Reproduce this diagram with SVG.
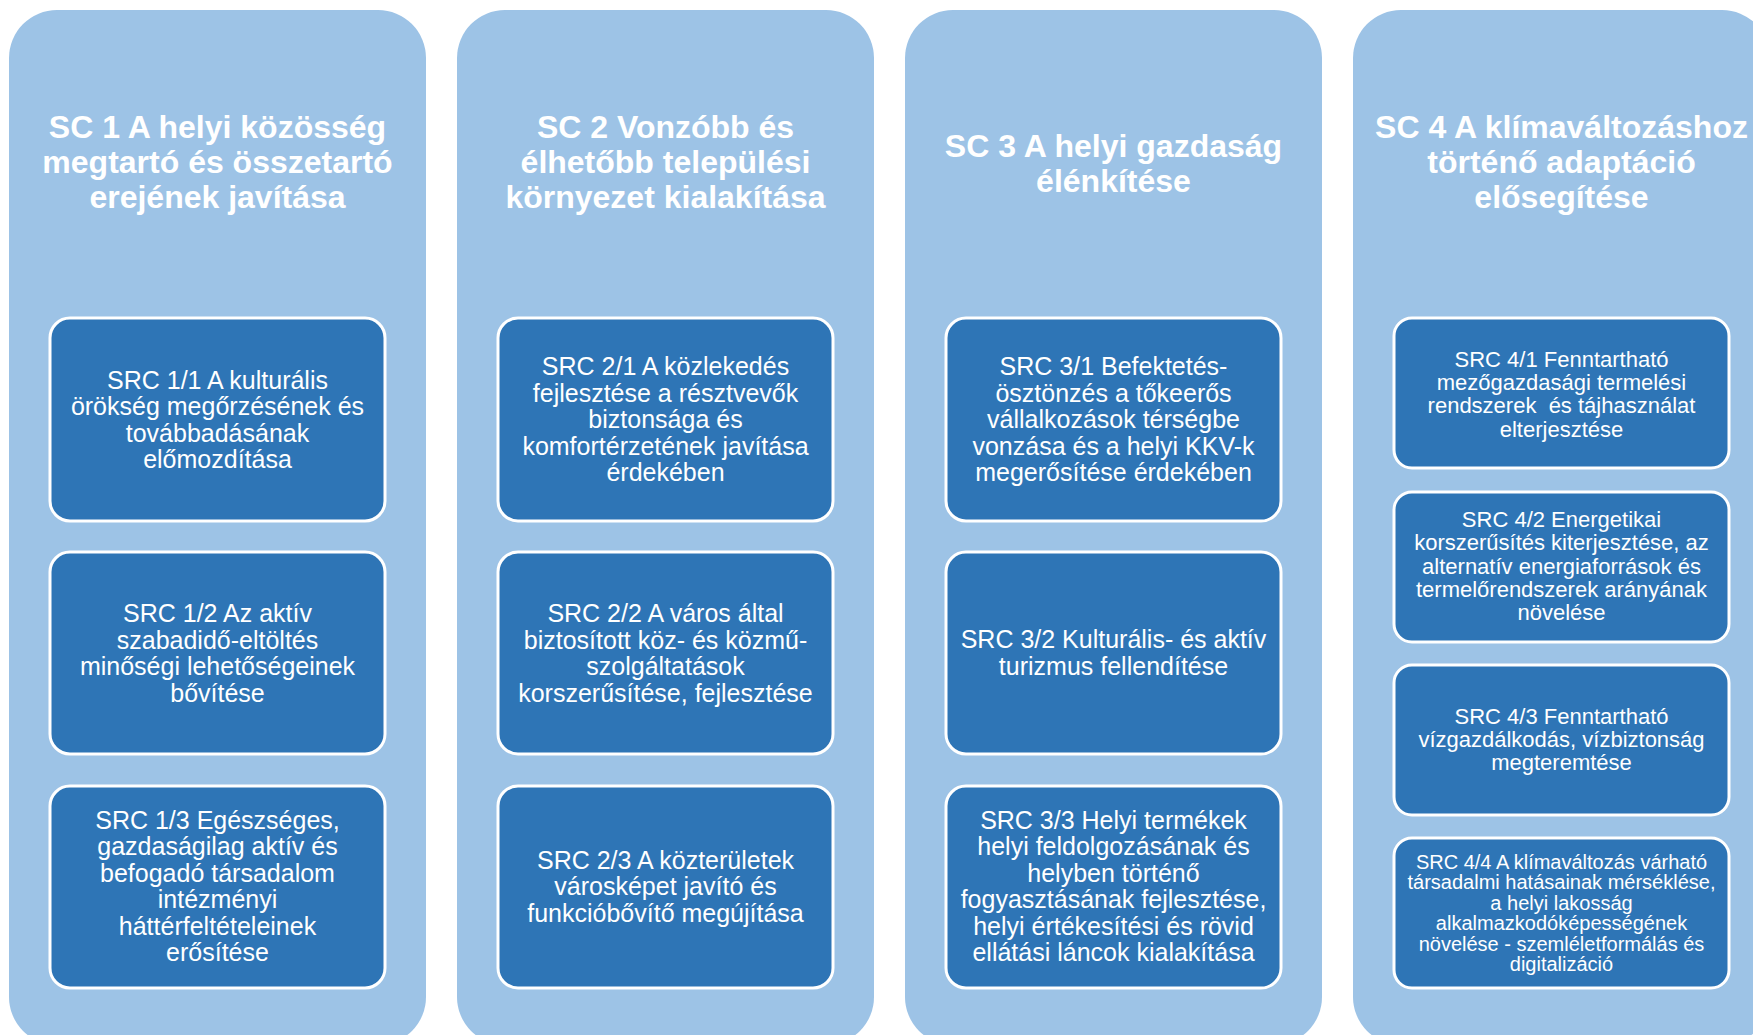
<svg xmlns="http://www.w3.org/2000/svg" width="1753" height="1035" viewBox="0 0 1753 1035">
<style>
.col{fill:#9DC3E6;}
.box{fill:#2E75B6;stroke:#FFFFFF;stroke-width:3;}
.title{font-family:"Liberation Sans",Arial,sans-serif;font-weight:bold;font-size:32px;fill:#FFFFFF;text-anchor:middle;}
.t{font-family:"Liberation Sans",Arial,sans-serif;font-size:25px;fill:#FFFFFF;text-anchor:middle;}
.t4{font-family:"Liberation Sans",Arial,sans-serif;font-size:22px;fill:#FFFFFF;text-anchor:middle;white-space:pre;}
.t44{font-family:"Liberation Sans",Arial,sans-serif;font-size:20px;fill:#FFFFFF;text-anchor:middle;}
</style>
<rect width="1753" height="1035" fill="#FFFFFF"/>

<g id="sc1">
<rect class="col" x="9" y="10" width="417" height="1035" rx="48"/>
<text class="title"><tspan x="217.5" y="138">SC 1 A helyi közösség</tspan><tspan x="217.5" y="173">megtartó és összetartó</tspan><tspan x="217.5" y="208">erejének javítása</tspan></text>
</g>
<g id="sc2">
<rect class="col" x="457" y="10" width="417" height="1035" rx="48"/>
<text class="title"><tspan x="665.5" y="138">SC 2 Vonzóbb és</tspan><tspan x="665.5" y="173">élhetőbb települési</tspan><tspan x="665.5" y="208">környezet kialakítása</tspan></text>
</g>
<g id="sc3">
<rect class="col" x="905" y="10" width="417" height="1035" rx="48"/>
<text class="title"><tspan x="1113.5" y="157">SC 3 A helyi gazdaság</tspan><tspan x="1113.5" y="192">élénkítése</tspan></text>
</g>
<g id="sc4">
<rect class="col" x="1353" y="10" width="417" height="1035" rx="48"/>
<text class="title"><tspan x="1561.5" y="138">SC 4 A klímaváltozáshoz</tspan><tspan x="1561.5" y="173">történő adaptáció</tspan><tspan x="1561.5" y="208">elősegítése</tspan></text>
</g>

<g id="src11">
<rect class="box" x="50" y="318" width="335" height="203" rx="20"/>
<text class="t"><tspan x="217.5" y="388.5">SRC 1/1 A kulturális</tspan><tspan x="217.5" y="415">örökség megőrzésének és</tspan><tspan x="217.5" y="441.5">továbbadásának</tspan><tspan x="217.5" y="468">előmozdítása</tspan></text>
</g>
<g id="src12">
<rect class="box" x="50" y="552" width="335" height="202" rx="20"/>
<text class="t"><tspan x="217.5" y="622">SRC 1/2 Az aktív</tspan><tspan x="217.5" y="648.5">szabadidő-eltöltés</tspan><tspan x="217.5" y="675">minőségi lehetőségeinek</tspan><tspan x="217.5" y="701.5">bővítése</tspan></text>
</g>
<g id="src13">
<rect class="box" x="50" y="786" width="335" height="202" rx="20"/>
<text class="t"><tspan x="217.5" y="828.5">SRC 1/3 Egészséges,</tspan><tspan x="217.5" y="855">gazdaságilag aktív és</tspan><tspan x="217.5" y="881.5">befogadó társadalom</tspan><tspan x="217.5" y="908">intézményi</tspan><tspan x="217.5" y="934.5">háttérfeltételeinek</tspan><tspan x="217.5" y="961">erősítése</tspan></text>
</g>

<g id="src21">
<rect class="box" x="498" y="318" width="335" height="203" rx="20"/>
<text class="t"><tspan x="665.5" y="375">SRC 2/1 A közlekedés</tspan><tspan x="665.5" y="401.5">fejlesztése a résztvevők</tspan><tspan x="665.5" y="428">biztonsága és</tspan><tspan x="665.5" y="454.5">komfortérzetének javítása</tspan><tspan x="665.5" y="481">érdekében</tspan></text>
</g>
<g id="src22">
<rect class="box" x="498" y="552" width="335" height="202" rx="20"/>
<text class="t"><tspan x="665.5" y="622">SRC 2/2 A város által</tspan><tspan x="665.5" y="648.5">biztosított köz- és közmű-</tspan><tspan x="665.5" y="675">szolgáltatások</tspan><tspan x="665.5" y="701.5">korszerűsítése, fejlesztése</tspan></text>
</g>
<g id="src23">
<rect class="box" x="498" y="786" width="335" height="202" rx="20"/>
<text class="t"><tspan x="665.5" y="868.5">SRC 2/3 A közterületek</tspan><tspan x="665.5" y="895">városképet javító és</tspan><tspan x="665.5" y="921.5">funkcióbővítő megújítása</tspan></text>
</g>

<g id="src31">
<rect class="box" x="946" y="318" width="335" height="203" rx="20"/>
<text class="t"><tspan x="1113.5" y="375">SRC 3/1 Befektetés-</tspan><tspan x="1113.5" y="401.5">ösztönzés a tőkeerős</tspan><tspan x="1113.5" y="428">vállalkozások térségbe</tspan><tspan x="1113.5" y="454.5">vonzása és a helyi KKV-k</tspan><tspan x="1113.5" y="481">megerősítése érdekében</tspan></text>
</g>
<g id="src32">
<rect class="box" x="946" y="552" width="335" height="202" rx="20"/>
<text class="t"><tspan x="1113.5" y="647.5">SRC 3/2 Kulturális- és aktív</tspan><tspan x="1113.5" y="674.5">turizmus fellendítése</tspan></text>
</g>
<g id="src33">
<rect class="box" x="946" y="786" width="335" height="202" rx="20"/>
<text class="t"><tspan x="1113.5" y="828.5">SRC 3/3 Helyi termékek</tspan><tspan x="1113.5" y="855">helyi feldolgozásának és</tspan><tspan x="1113.5" y="881.5">helyben történő</tspan><tspan x="1113.5" y="908">fogyasztásának fejlesztése,</tspan><tspan x="1113.5" y="934.5">helyi értékesítési és rövid</tspan><tspan x="1113.5" y="961">ellátási láncok kialakítása</tspan></text>
</g>

<g id="src41">
<rect class="box" x="1394" y="318" width="335" height="150" rx="18"/>
<text class="t4"><tspan x="1561.5" y="366.5">SRC 4/1 Fenntartható</tspan><tspan x="1561.5" y="390">mezőgazdasági termelési</tspan><tspan x="1561.5" y="413">rendszerek  és tájhasználat</tspan><tspan x="1561.5" y="436.5">elterjesztése</tspan></text>
</g>
<g id="src42">
<rect class="box" x="1394" y="492" width="335" height="150" rx="18"/>
<text class="t4"><tspan x="1561.5" y="527">SRC 4/2 Energetikai</tspan><tspan x="1561.5" y="550.3">korszerűsítés kiterjesztése, az</tspan><tspan x="1561.5" y="573.6">alternatív energiaforrások és</tspan><tspan x="1561.5" y="596.9">termelőrendszerek arányának</tspan><tspan x="1561.5" y="620.2">növelése</tspan></text>
</g>
<g id="src43">
<rect class="box" x="1394" y="665" width="335" height="150" rx="18"/>
<text class="t4"><tspan x="1561.5" y="723.5">SRC 4/3 Fenntartható</tspan><tspan x="1561.5" y="746.8">vízgazdálkodás, vízbiztonság</tspan><tspan x="1561.5" y="770">megteremtése</tspan></text>
</g>
<g id="src44">
<rect class="box" x="1394" y="838" width="335" height="150" rx="18"/>
<text class="t44"><tspan x="1561.5" y="868.5">SRC 4/4 A klímaváltozás várható</tspan><tspan x="1561.5" y="889">társadalmi hatásainak mérséklése,</tspan><tspan x="1561.5" y="909.5">a helyi lakosság</tspan><tspan x="1561.5" y="930">alkalmazkodóképességének</tspan><tspan x="1561.5" y="950.5">növelése - szemléletformálás és</tspan><tspan x="1561.5" y="971">digitalizáció</tspan></text>
</g>

<g id="connectors"></g>
</svg>
